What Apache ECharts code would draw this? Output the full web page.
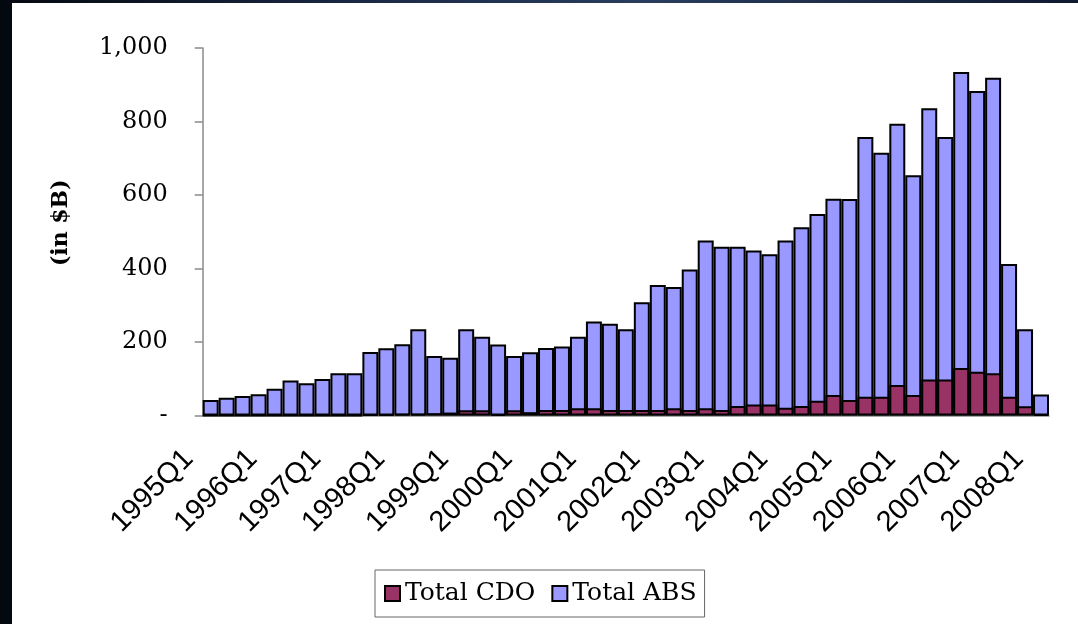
<!DOCTYPE html>
<html><head><meta charset="utf-8">
<script src="https://cdn.jsdelivr.net/npm/echarts@6/dist/echarts.min.js"></script>
<style>
html,body{margin:0;padding:0;width:1078px;height:624px;overflow:hidden;background:#0a1326;}
#frame{position:absolute;left:0;top:0;width:1078px;height:624px;background:linear-gradient(90deg,#04080f 0%,#1b2a47 35%,#2a3d5e 60%,#0f1a30 100%);}
#chart{position:absolute;left:12px;top:3px;width:1066px;height:621px;background:#fff;}
</style></head>
<body><div id="frame"></div><div id="chart"></div>
<script>
const categories = [
 '1995Q1','1995Q2','1995Q3','1995Q4','1996Q1','1996Q2','1996Q3','1996Q4',
 '1997Q1','1997Q2','1997Q3','1997Q4','1998Q1','1998Q2','1998Q3','1998Q4',
 '1999Q1','1999Q2','1999Q3','1999Q4','2000Q1','2000Q2','2000Q3','2000Q4',
 '2001Q1','2001Q2','2001Q3','2001Q4','2002Q1','2002Q2','2002Q3','2002Q4',
 '2003Q1','2003Q2','2003Q3','2003Q4','2004Q1','2004Q2','2004Q3','2004Q4',
 '2005Q1','2005Q2','2005Q3','2005Q4','2006Q1','2006Q2','2006Q3','2006Q4',
 '2007Q1','2007Q2','2007Q3','2007Q4','2008Q1'
];
const totalABS = [
 42,48,53,58,73,95,88,99,115,115,173,183,194,235,162,157,
 235,214,193,162,172,184,188,214,256,250,235,308,355,350,397,476,
 459,459,449,439,476,512,548,590,589,758,715,794,654,836,758,935,
 883,919,412,235,57
];
const totalCDO = [
 0,0,0,0,0,0,0,0,0,0,3,3,4,4,6,8,
 14,14,3,14,9,15,15,20,20,15,15,15,15,20,15,20,
 15,26,30,30,21,26,40,56,42,51,51,83,56,98,98,129,
 119,115,51,25,3
];
const yMin = 0, yMax = 1000, yStep = 200;

const chart = echarts.init(document.getElementById('chart'), null, {renderer:'canvas'});
chart.setOption({
  backgroundColor: '#ffffff',
  animation: false,
  grid: {left: 190.7, right: 29, top: 45, bottom: 208.5, containLabel: false},
  legend: {
    data: ['Total CDO','Total ABS'],
    left: 363, top: 567,
    icon: 'rect', itemWidth: 15, itemHeight: 15, itemGap: 16,
    borderColor: '#666', borderWidth: 1, padding: [11, 8, 11, 9],
    textStyle: {fontFamily: 'DejaVu Serif', fontSize: 25, color: '#000'}
  },
  xAxis: {
    type: 'category', data: categories,
    axisLine: {show: true, lineStyle: {color: '#8a8a8a', width: 1.5}},
    axisTick: {show: false},
    axisLabel: {
      interval: 3, rotate: 45, margin: 17, padding: [0, 31, 0, 0],
      fontFamily: 'Liberation Sans', fontSize: 29, color: '#000'
    }
  },
  yAxis: {
    type: 'value', min: yMin, max: yMax, interval: yStep,
    name: '(in $B)', nameLocation: 'middle', nameRotate: 90, nameGap: 130,
    nameTextStyle: {fontFamily: 'DejaVu Serif', fontWeight: 'bold', fontSize: 22, color: '#000', padding: [0, 0, 0, 18]},
    axisLine: {show: true, lineStyle: {color: '#8a8a8a', width: 1.5}},
    axisTick: {show: true, length: 8, lineStyle: {color: '#8a8a8a', width: 1.5}},
    splitLine: {show: false},
    axisLabel: {
      margin: 35, fontFamily: 'DejaVu Serif', fontSize: 24, color: '#000',
      formatter: v => v === 0 ? '-' : v.toLocaleString('en-US')
    }
  },
  series: [
    {name: 'Total ABS', type: 'bar', data: totalABS, barGap: '-100%', barCategoryGap: '0%',
     itemStyle: {color: '#9999ff', borderColor: '#000', borderWidth: 2}},
    {name: 'Total CDO', type: 'bar', data: totalCDO, barGap: '-100%', barCategoryGap: '0%',
     itemStyle: {color: '#993366', borderColor: '#000', borderWidth: 2}}
  ]
});
</script>
</body></html>
